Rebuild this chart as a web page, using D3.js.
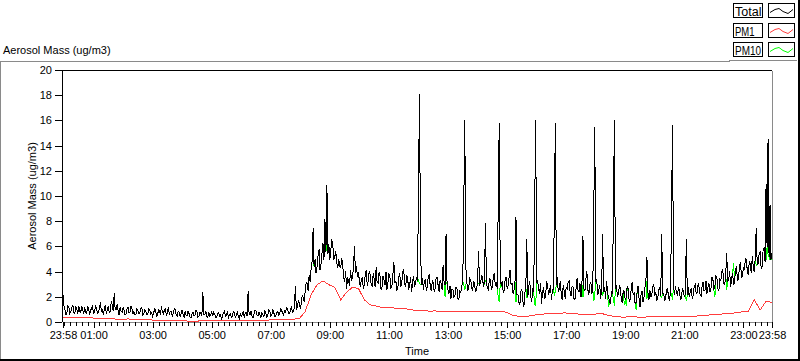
<!DOCTYPE html>
<html><head><meta charset="utf-8">
<script src="https://cdn.jsdelivr.net/npm/d3@7"></script>
<style>
html,body{margin:0;padding:0;background:#fff;}
svg{display:block;font-family:"Liberation Sans",Arial,sans-serif;}
</style></head><body>
<svg id="chart" width="800" height="361"></svg>
<script>
// ---------- data ----------
const seriesNames = ["Total", "PM1", "PM10"];
const seriesColors = ["#000000", "#ff3c3c", "#00ff00"];
const totalStepMin = 2;   // sample spacing of Total / PM10 (minutes)
const pm1StepMin = 12;    // sample spacing of PM1 (minutes)

const total = [
2.2,1.3,
1.0,0.6,0.8,1.3,1.2,0.7,0.9,1.2,1.4,0.8,0.7,1.2,1.1,0.7,1.3,0.9,0.8,1.3,1.0,0.7,1.2,0.8,0.7,1.3,1.1,0.6,0.9,1.2,1.3,0.7,
0.9,1.3,1.2,0.7,0.8,1.1,1.6,0.9,1.0,0.6,1.1,1.4,0.7,1.0,1.3,0.8,0.9,1.7,1.4,0.9,2.3,1.0,1.0,1.5,0.9,0.6,1.2,0.9,0.8,1.2,
1.0,0.6,0.7,1.1,1.2,0.8,0.8,1.3,1.1,0.7,0.9,0.6,0.6,1.1,1.0,0.7,0.8,1.1,1.2,0.6,0.7,1.0,0.9,0.6,0.6,1.1,1.0,0.7,0.8,0.5,
0.7,1.1,1.0,0.5,0.6,1.0,0.9,0.6,1.3,0.8,0.7,1.0,1.1,0.5,0.8,1.2,0.6,0.9,0.9,0.5,0.7,1.1,1.0,0.6,0.5,0.9,0.8,0.5,0.7,1.0,
0.6,0.4,0.9,0.6,0.5,0.9,0.7,0.4,0.4,0.7,0.8,0.5,0.6,1.0,0.9,0.4,0.5,0.8,0.7,0.5,2.4,0.6,0.6,0.9,0.5,0.4,0.8,0.5,0.6,0.9,
0.5,0.8,0.7,0.4,0.4,0.7,0.8,0.5,0.6,0.3,0.5,0.8,0.9,0.5,0.6,0.9,0.4,0.6,0.7,0.4,0.5,0.9,0.8,0.4,0.6,0.8,0.5,0.3,0.7,0.5,
0.6,0.9,0.4,0.7,0.8,0.5,2.5,0.6,0.6,0.9,0.5,0.4,0.7,1.0,0.9,0.6,0.5,0.8,0.6,0.4,0.8,0.6,0.5,0.9,0.7,0.4,0.6,1.0,0.9,0.5,
0.6,1.0,0.8,0.5,0.5,0.8,0.9,0.6,0.7,1.1,1.0,0.7,0.6,0.9,0.8,1.2,1.1,0.7,0.7,1.0,1.3,0.8,0.9,1.2,2.9,1.0,1.2,1.7,1.6,1.1,
1.5,2.2,2.0,1.6,2.6,3.2,3.1,2.5,3.8,3.2,4.3,4.9,7.5,4.4,5.0,3.9,4.4,5.3,5.8,4.2,4.6,5.5,6.3,5.0,8.2,5.6,10.9,5.4,6.2,5.0,
5.8,6.6,6.1,5.0,5.2,5.7,4.8,4.3,5.0,4.5,4.3,5.1,4.6,3.6,3.2,4.1,2.7,3.5,3.4,2.9,4.2,3.3,3.6,4.4,6.1,3.9,4.5,3.6,4.0,3.3,
2.8,3.4,3.6,2.7,3.0,3.9,4.2,2.9,3.3,4.1,3.8,3.0,2.9,3.9,3.5,2.8,4.4,3.2,3.1,4.0,3.7,2.6,2.8,3.7,3.4,3.0,4.0,2.6,3.2,3.9,
3.6,2.7,2.9,3.8,4.8,3.2,3.3,2.6,2.7,3.6,3.9,2.8,3.1,4.0,4.2,3.1,2.8,3.8,3.5,2.6,3.0,3.6,2.4,3.2,3.7,2.8,3.2,3.6,3.3,10.4,
18.1,6.5,3.0,3.5,2.6,3.3,3.4,2.5,2.9,3.7,3.8,2.8,2.5,3.3,3.2,2.4,2.7,3.6,3.6,2.9,2.4,3.4,3.1,2.6,4.6,3.2,3.0,7.0,3.2,2.6,
2.3,2.9,1.9,2.6,2.6,2.0,2.1,2.8,2.8,1.9,1.8,2.5,2.4,2.9,3.3,9.4,16.1,4.5,3.2,2.6,2.7,3.5,3.4,2.8,2.5,3.3,3.0,2.4,2.6,3.2,
5.7,3.0,3.1,3.7,3.6,2.8,3.2,7.9,3.2,2.7,2.6,3.5,3.4,2.6,2.8,3.6,3.9,2.9,3.1,2.7,9.6,15.8,4.0,2.9,3.3,2.4,2.5,3.4,3.6,2.7,
2.9,3.6,4.2,3.0,3.1,2.3,2.6,3.2,8.4,2.2,2.2,1.6,1.4,2.5,2.6,1.7,1.2,2.3,2.8,6.6,2.0,2.9,3.3,2.1,1.6,2.7,2.4,9.0,16.1,3.1,
3.4,2.6,2.3,3.1,1.5,2.4,2.8,1.9,2.0,3.2,3.1,2.2,2.4,3.0,1.8,2.5,2.7,9.0,15.8,3.0,3.6,2.4,2.7,3.3,2.2,1.8,3.0,2.5,1.9,2.8,
2.6,3.2,3.3,2.4,2.1,2.9,2.8,1.8,1.9,2.7,3.5,2.6,2.4,3.1,2.0,3.0,6.9,2.7,2.5,3.4,4.1,2.6,2.2,3.0,3.2,2.3,2.6,8.7,15.5,3.3,
3.4,2.2,2.5,3.0,1.9,2.6,7.0,2.4,2.8,1.9,3.3,2.3,2.1,1.6,1.5,2.5,2.3,9.5,16.1,2.7,3.0,2.1,2.2,2.9,2.8,1.7,1.6,2.6,2.4,1.8,
2.0,2.9,2.7,1.7,1.8,2.6,3.2,2.2,2.3,1.5,1.6,2.4,2.9,1.9,1.2,2.2,2.5,1.6,2.0,2.8,3.4,5.2,2.4,1.8,2.6,2.0,2.2,2.9,3.0,2.1,
2.4,1.8,1.9,2.6,2.8,2.1,7.0,2.3,2.3,1.7,2.0,2.6,2.7,1.9,1.8,2.5,9.0,15.7,2.9,2.2,2.9,2.3,2.2,2.8,2.6,1.8,1.9,2.7,2.5,2.0,
2.3,6.6,2.2,2.8,2.0,2.5,2.7,1.9,2.2,2.9,3.0,2.3,2.4,3.1,2.8,2.2,2.1,2.9,3.2,2.5,2.6,3.3,2.3,2.8,3.1,2.4,2.7,3.6,3.4,2.6,
2.9,3.7,3.6,2.7,2.5,3.4,3.3,4.0,4.2,3.1,3.0,3.8,5.5,3.2,3.4,4.1,2.8,3.5,3.9,3.0,3.2,4.3,4.4,3.3,3.5,4.5,4.8,3.6,3.7,4.4,
4.2,5.1,5.0,4.0,3.8,4.9,4.6,3.9,5.3,4.4,4.0,5.2,7.5,4.6,4.7,5.5,5.6,4.3,4.4,5.8,5.9,4.8,11.0,6.0,14.6,5.2,9.3,5.0,
5.5
];

const pm10 = [
2.2,1.3,
1.0,0.6,0.8,1.3,1.2,0.7,0.9,1.2,1.4,0.8,0.7,1.2,1.1,0.7,1.3,0.9,0.8,1.3,1.0,0.7,1.2,0.8,0.7,1.3,1.1,0.6,0.9,1.2,1.3,0.7,
0.9,1.3,1.2,0.7,0.8,1.1,1.6,0.9,1.0,0.6,1.1,1.4,0.7,1.0,1.3,0.8,0.9,1.7,1.4,0.9,2.3,1.0,1.0,1.5,0.9,0.6,1.2,0.9,0.8,1.2,
1.0,0.6,0.7,1.1,1.2,0.8,0.8,1.3,1.1,0.7,0.9,0.6,0.6,1.1,1.0,0.7,0.8,1.1,1.2,0.6,0.7,1.0,0.9,0.6,0.6,1.1,1.0,0.7,0.8,0.5,
0.7,1.1,1.0,0.5,0.6,1.0,0.9,0.6,1.3,0.8,0.7,1.0,1.1,0.5,0.8,1.2,0.6,0.9,0.9,0.5,0.7,1.1,1.0,0.6,0.5,0.9,0.8,0.5,0.7,1.0,
0.6,0.4,0.9,0.6,0.5,0.9,0.7,0.4,0.4,0.7,0.8,0.5,0.6,1.0,0.9,0.4,0.5,0.8,0.7,0.5,2.4,0.6,0.6,0.9,0.5,0.4,0.8,0.5,0.6,0.9,
0.5,0.8,0.7,0.4,0.4,0.7,0.8,0.5,0.6,0.3,0.5,0.8,0.9,0.5,0.6,0.9,0.4,0.6,0.7,0.4,0.5,0.9,0.8,0.4,0.6,0.8,0.5,0.3,0.7,0.5,
0.6,0.9,0.4,0.7,0.8,0.5,2.5,0.6,0.6,0.9,0.5,0.4,0.7,1.0,0.9,0.6,0.5,0.8,0.6,0.4,0.8,0.6,0.5,0.9,0.7,0.4,0.6,1.0,0.9,0.5,
0.6,1.0,0.8,0.5,0.5,0.8,0.9,0.6,0.7,1.1,1.0,0.7,0.6,0.9,0.8,1.2,1.1,0.7,0.7,1.0,1.3,0.8,0.9,1.2,2.9,1.0,1.2,1.7,1.6,1.1,
1.5,2.2,2.0,1.6,2.6,3.2,3.1,2.5,3.8,3.2,4.3,4.9,5.3,4.4,5.0,3.9,4.4,5.3,5.8,4.2,4.6,5.5,6.3,5.0,8.2,5.6,6.6,5.4,6.2,5.0,
5.8,6.6,6.1,5.0,5.2,5.7,4.8,4.3,5.0,4.5,4.3,5.1,4.6,3.6,3.2,4.1,2.7,3.5,3.4,2.9,4.2,3.3,3.6,4.4,6.1,3.9,4.5,3.6,4.0,3.3,
2.8,3.4,3.6,2.7,3.0,3.9,4.2,2.9,3.3,4.1,3.8,3.0,2.9,3.9,3.5,2.8,4.4,3.2,3.1,4.0,3.7,2.6,2.8,3.7,3.4,3.0,4.0,2.6,3.2,3.9,
3.6,2.7,2.9,3.8,4.8,3.2,3.3,2.6,2.7,3.6,3.9,2.8,3.1,4.0,4.2,3.1,2.8,3.8,3.5,2.6,3.0,3.6,2.4,3.2,3.7,2.8,3.2,3.6,3.3,3.4,
3.1,3.0,3.0,3.5,2.6,3.3,3.4,2.5,2.9,3.7,3.8,2.8,2.5,3.3,3.2,2.4,2.7,3.6,3.6,2.9,2.4,3.4,3.1,2.6,4.6,3.2,2.0,3.1,3.2,2.6,
2.3,2.9,1.9,2.6,2.6,2.0,2.1,2.8,2.8,1.9,1.8,2.5,2.4,2.9,3.3,3.0,2.6,3.0,3.2,2.6,2.7,3.5,3.4,2.8,2.5,3.3,3.0,2.4,2.6,3.2,
3.1,3.0,3.1,3.7,3.6,2.8,3.2,3.3,3.2,2.7,2.6,3.5,3.4,2.6,2.8,3.6,3.9,2.9,3.1,2.7,2.0,1.6,3.0,2.9,3.3,2.4,2.5,3.4,3.6,2.7,
2.9,3.6,4.2,3.0,3.1,2.3,2.6,3.2,1.6,2.2,2.2,1.6,1.4,2.5,2.6,1.7,1.2,2.3,2.8,2.0,2.0,2.9,3.3,2.1,1.6,2.7,2.4,1.5,1.3,3.1,
3.4,2.6,2.3,3.1,1.5,2.4,2.8,1.9,2.0,3.2,3.1,2.2,2.4,3.0,1.8,2.5,2.7,2.2,2.4,3.0,3.6,2.4,2.7,3.3,2.2,1.8,3.0,2.5,1.9,2.8,
2.6,3.2,3.3,2.4,2.1,2.9,2.8,1.8,1.9,2.7,3.5,2.6,2.4,3.1,2.0,3.0,2.0,2.7,2.5,3.4,4.1,2.6,2.2,3.0,3.2,2.3,2.6,1.7,2.2,3.3,
3.4,2.2,2.5,3.0,1.9,2.6,2.2,2.4,2.8,1.9,3.3,2.3,1.2,1.6,1.5,2.5,2.3,1.8,1.3,2.7,3.0,2.1,2.2,2.9,2.8,1.7,1.6,2.6,1.4,1.8,
1.3,2.9,2.7,1.7,1.8,2.6,3.2,2.2,2.3,1.5,1.0,2.4,2.9,1.9,1.2,2.2,2.5,1.6,2.0,2.8,3.4,1.9,2.4,1.8,2.6,2.0,2.2,2.9,3.0,2.1,
2.4,1.8,1.9,2.6,2.8,2.1,2.0,2.3,2.3,1.7,2.0,2.6,2.7,1.9,1.8,2.5,2.2,1.8,2.9,2.2,2.9,2.3,2.2,2.8,2.6,1.8,1.9,2.7,2.5,2.0,
2.3,1.7,2.2,2.8,2.0,2.5,2.7,1.9,2.2,2.9,3.0,2.3,2.4,3.1,2.8,2.2,2.1,2.9,3.2,2.5,2.6,3.3,2.3,2.8,3.1,2.4,2.7,3.6,3.4,2.6,
2.0,3.7,3.6,2.7,2.5,3.4,3.3,4.0,4.2,3.1,3.0,3.8,2.6,3.2,3.4,4.1,2.8,3.5,3.9,4.7,3.2,4.3,4.4,3.3,3.5,4.5,4.8,3.6,3.7,4.4,
4.2,5.1,5.0,4.0,3.8,4.9,4.6,3.9,5.3,4.4,4.0,5.2,4.5,4.6,4.7,5.5,5.6,4.3,4.4,5.8,5.9,4.8,5.0,6.0,5.4,5.2,5.0,5.0,
5.5
];

const pm1 = [
0.42,0.40,0.40,0.38,0.40,0.36,
0.30,0.28,0.30,0.27,0.26,
0.28,0.26,0.24,0.22,0.20,
0.18,0.16,0.15,0.14,0.12,
0.12,0.10,0.12,0.14,0.12,
0.12,0.14,0.15,0.14,0.16,
0.16,0.18,0.17,0.18,0.20,
0.22,0.24,0.25,0.27,0.30,
0.88,2.2,3.0,3.3,3.0,
2.8,1.8,2.4,2.8,2.7,
1.8,1.4,1.3,1.2,1.2,
1.15,1.15,1.1,1.0,0.95,
0.95,0.9,0.92,0.88,0.9,
0.88,0.9,0.86,0.88,0.9,
0.88,0.86,0.9,0.87,0.82,
0.6,0.5,0.48,0.52,0.6,
0.65,0.72,0.75,0.74,0.76,
0.72,0.68,0.62,0.6,0.65,
0.74,0.6,0.5,0.45,0.42,
0.48,0.44,0.4,0.45,0.48,
0.46,0.48,0.45,0.48,0.47,
0.48,0.5,0.55,0.58,0.62,
0.65,0.7,0.72,0.78,0.85,
0.9,1.8,1.0,1.7,1.6
];

const xTickLabels = ["23:58","01:00","03:00","05:00","07:00","09:00","11:00","13:00","15:00","17:00","19:00","21:00","23:00","23:58"];
const yTicks = [0,2,4,6,8,10,12,14,16,18,20];
const yTitle = "Aerosol Mass (ug/m3)";
const xTitle = "Time";

// ---------- scales ----------
const t0 = new Date(2000, 0, 1, 23, 58);
const t1 = new Date(2000, 0, 2, 23, 58);
const MIN = 60000;
const tickDates = xTickLabels.map((s, k) => {
  if (k === 0) return t0;
  if (k === xTickLabels.length - 1) return t1;
  const [h, m] = s.split(":").map(Number);
  return new Date(2000, 0, 2, h, m);
});

const x = d3.scaleTime().domain([t0, t1]).range([63, 772]);
const y = d3.scaleLinear().domain([0, 20]).range([322.5, 70.5]);

const svg = d3.select("#chart");

// ---------- outer panel frame ----------
const frame = svg.append("g").attr("shape-rendering", "crispEdges").attr("fill", "none");
frame.append("path").attr("d", "M0.5,359 V61.5 H729.5 V60.5 H797").attr("stroke", "#8a8a8a");
frame.append("line").attr("x1", 0).attr("x2", 800).attr("y1", 360).attr("y2", 360).attr("stroke", "#000").attr("stroke-width", 2);
frame.append("line").attr("x1", 799).attr("x2", 799).attr("y1", 0).attr("y2", 361).attr("stroke", "#000").attr("stroke-width", 2);

// top-left title
svg.append("text").attr("x", 3).attr("y", 54).attr("font-size", 11).attr("fill", "#000").text(yTitle);

// ---------- legend ----------
const legRows = [3.5, 23.5, 42.5];
const legTextLen = [26.5, 19.5, 26];
const leg = svg.append("g");
seriesNames.forEach((name, k) => {
  const top = legRows[k];
  leg.append("rect").attr("x", 733.5).attr("y", top).attr("width", 29).attr("height", 14)
    .attr("fill", "#fff").attr("stroke", "#000").attr("shape-rendering", "crispEdges");
  leg.append("rect").attr("x", 768.5).attr("y", top).attr("width", 26).attr("height", 14)
    .attr("fill", "#fff").attr("stroke", "#000").attr("shape-rendering", "crispEdges");
  leg.append("text").attr("x", 735).attr("y", top + 12).attr("font-size", 12).attr("fill", "#000")
    .attr("textLength", legTextLen[k]).attr("lengthAdjust", "spacingAndGlyphs").text(name);
  const sx = [770, 775, 779, 783, 788, 793];
  const sy = [9, 6, 5, 8, 10, 6];
  leg.append("path")
    .attr("d", d3.line()(sx.map((v, q) => [v, top + sy[q]])))
    .attr("fill", "none").attr("stroke", seriesColors[k]).attr("stroke-width", 1);
});

// ---------- plot frame ----------
const pf = svg.append("g").attr("shape-rendering", "crispEdges").attr("fill", "none");
pf.append("path").attr("d", "M62.5,322 V70.5 H772").attr("stroke", "#000");
pf.append("path").attr("d", "M63,322.5 H772.5 V70.5").attr("stroke", "#8a8a8a");

// ---------- axes ----------
const minorTimes = d3.timeMinute.every(12).range(t0, t1);
const gMinor = svg.append("g").attr("transform", "translate(0,322)")
  .call(d3.axisBottom(x).tickValues(minorTimes).tickSize(4).tickFormat(""));
gMinor.select(".domain").remove();

const gX = svg.append("g").attr("transform", "translate(0,322)")
  .call(d3.axisBottom(x).tickValues(tickDates).tickSize(6).tickPadding(3)
    .tickFormat((d, k) => xTickLabels[k]));
gX.select(".domain").remove();
gX.selectAll("text").attr("font-size", 11).attr("font-family", '"Liberation Sans",Arial,sans-serif').attr("fill", "#000");

const gY = svg.append("g").attr("transform", "translate(62,0)")
  .call(d3.axisLeft(y).tickValues(yTicks).tickSize(7).tickPadding(3).offset(0));
gY.select(".domain").remove();
gY.selectAll("text").attr("font-size", 11).attr("font-family", '"Liberation Sans",Arial,sans-serif').attr("fill", "#000");
svg.selectAll(".tick line").attr("stroke", "#000").attr("shape-rendering", "crispEdges");

svg.append("text").attr("transform", "translate(36,196) rotate(-90)")
  .attr("text-anchor", "middle").attr("font-size", 11).attr("fill", "#000").text(yTitle);
svg.append("text").attr("x", 417).attr("y", 355).attr("text-anchor", "middle")
  .attr("font-size", 11).attr("fill", "#000").text(xTitle);

// ---------- series ----------
const plot = svg.append("g").attr("shape-rendering", "crispEdges");
const line = d3.line().x(d => x(d[0])).y(d => y(d[1]));
const asPts = (arr, step) => arr.map((v, i) => [new Date(t0.getTime() + i * step * MIN), v]);

plot.append("path").attr("d", line(asPts(pm10, totalStepMin)))
  .attr("fill", "none").attr("stroke", seriesColors[2]).attr("stroke-width", 1);
plot.append("path").attr("d", line(asPts(pm1, pm1StepMin)))
  .attr("fill", "none").attr("stroke", seriesColors[1]).attr("stroke-width", 1);
plot.append("path").attr("d", line(asPts(total, totalStepMin)))
  .attr("fill", "none").attr("stroke", seriesColors[0]).attr("stroke-width", 1);
</script>
</body></html>
